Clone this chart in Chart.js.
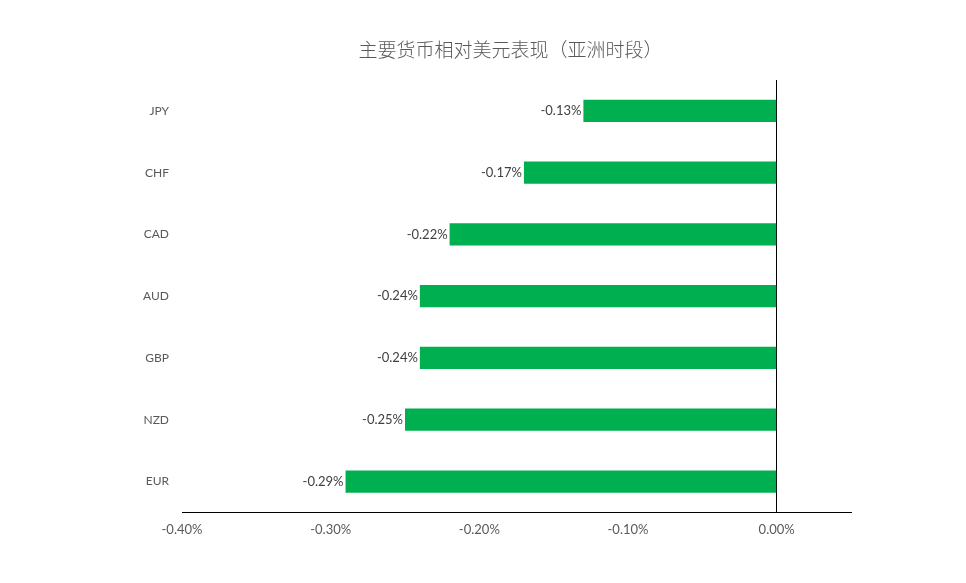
<!DOCTYPE html>
<html>
<head>
<meta charset="utf-8">
<script src="https://cdn.jsdelivr.net/npm/chart.js@4/dist/chart.umd.min.js"></script>
<style>
  html, body { margin: 0; padding: 0; background: #fff; }
  #wrap { width: 966px; height: 583px; }
</style>
</head>
<body>
<div id="wrap"><canvas id="fxChart"></canvas></div>
<script>
'use strict';

/* ── Data ── */
const CHART_TITLE = '主要货币相对美元表现（亚洲时段）';
const CURRENCIES = ['JPY', 'CHF', 'CAD', 'AUD', 'GBP', 'NZD', 'EUR'];
const CHANGE_PCT = [-0.13, -0.17, -0.22, -0.24, -0.24, -0.25, -0.29];
const X_TICKS = [-0.40, -0.30, -0.20, -0.10, 0.00];

const GREEN = '#00B050';
const GREY = '#595959';
const fmtPct = v => v.toFixed(2) + '%';

/* ── Title centred over the plot area ── */
const titlePlugin = {
    id: 'plotTitle',
    afterDraw(chart) {
        const { ctx, chartArea } = chart;
        ctx.save();
        ctx.font = '300 19px "Noto Sans CJK SC", sans-serif';
        ctx.fillStyle = GREY;
        ctx.textAlign = 'center';
        ctx.textBaseline = 'middle';
        ctx.fillText(CHART_TITLE, (chartArea.left + chartArea.right) / 2 - 6, 50);
        ctx.restore();
    },
};

/* ── Value labels at the end of each bar ── */
const valueLabels = {
    id: 'valueLabels',
    afterDatasetsDraw(chart) {
        const { ctx } = chart;
        const meta = chart.getDatasetMeta(0);
        ctx.save();
        ctx.font = '13px Lato, sans-serif';
        ctx.fillStyle = '#404040';
        ctx.textAlign = 'right';
        ctx.textBaseline = 'middle';
        meta.data.forEach((bar, i) => {
            ctx.fillText(fmtPct(CHANGE_PCT[i]), bar.x - 2, bar.y);
        });
        ctx.restore();
    },
};

new Chart(document.getElementById('fxChart'), {
    type: 'bar',
    data: {
        labels: CURRENCIES,
        datasets: [{
            data: CHANGE_PCT,
            backgroundColor: GREEN,
            borderWidth: 0,
            barPercentage: 0.36,
            categoryPercentage: 1,
        }],
    },
    options: {
        indexAxis: 'y',
        responsive: true,
        maintainAspectRatio: false,
        animation: false,
        layout: { padding: { top: 80, right: 115, bottom: 35, left: 0 } },
        plugins: {
            legend: { display: false },
            title: { display: false },
            tooltip: { enabled: false },
        },
        scales: {
            x: {
                min: -0.40,
                max: 0.05,
                afterBuildTicks: scale => { scale.ticks = X_TICKS.map(v => ({ value: v })); },
                ticks: {
                    callback: v => fmtPct(v),
                    color: GREY,
                    font: { family: 'Lato', size: 13 },
                    padding: 10,
                    maxRotation: 0,
                },
                grid: {
                    drawTicks: false,
                    color: ctx => (ctx.tick && ctx.tick.value === 0 ? '#000' : 'rgba(0,0,0,0)'),
                    lineWidth: 1,
                },
                border: { display: true, color: '#000', width: 1 },
            },
            y: {
                afterFit: scale => { scale.width = 182; },
                ticks: {
                    color: GREY,
                    font: { family: 'Lato', size: 12 },
                    padding: 13,
                },
                grid: { display: false, drawTicks: false },
                border: { display: false },
            },
        },
    },
    plugins: [titlePlugin, valueLabels],
});
</script>
</body>
</html>
